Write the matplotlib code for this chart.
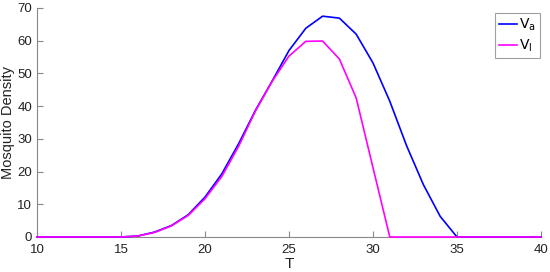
import matplotlib
matplotlib.use("Agg")
import matplotlib.pyplot as plt

plt.rcParams['font.family'] = ['Liberation Sans', 'DejaVu Sans']

T = list(range(10, 41))
Va = [0, 0, 0, 0, 0, 0, 0.3, 1.5, 3.5, 6.8, 12.2, 19.3, 28.5, 38.7, 47.7, 57.0,
      63.8, 67.5, 66.9, 62.0, 53.2, 41.5, 27.9, 16.0, 6.3, 0, 0, 0, 0, 0, 0]
Vl = [0, 0, 0, 0, 0, 0, 0.3, 1.4, 3.4, 6.6, 11.7, 18.5, 27.7, 38.5, 47.6, 55.3,
      59.8, 59.9, 54.4, 42.5, 21.2, 0, 0, 0, 0, 0, 0, 0, 0, 0, 0]

fig = plt.figure(figsize=(5.5, 2.72), dpi=100)
ax = fig.add_axes([0.0673, 0.1287, 0.9163, 0.8419])
ax.plot(T, Va, color=(0, 0, 1), lw=1.2, label=r'$\mathrm{V_a}$', clip_on=False, zorder=3)
ax.plot(T, Vl, color=(1, 0, 1), lw=1.2, label=r'$\mathrm{V_l}$', clip_on=False, zorder=3)
ax.set_xlim(10, 40)
ax.set_ylim(0, 70)
ax.set_xticks(range(10, 41, 5))
ax.set_yticks(range(0, 71, 10))
for s in ['top', 'right']:
    ax.spines[s].set_visible(False)
for s in ['left', 'bottom']:
    ax.spines[s].set_color('#888888')
    ax.spines[s].set_linewidth(0.8)
ax.tick_params(direction='in', colors='#888888', labelcolor='#222222', labelsize=9.5, length=4)
ax.tick_params(axis='x', pad=5)
ax.set_xlabel('T', fontsize=11, color='#222222', labelpad=1)
ax.set_ylabel('Mosquito Density', fontsize=10.5, color='#222222', labelpad=2)
leg = ax.legend(loc='upper right', bbox_to_anchor=(1.0, 0.985), fontsize=10, frameon=True,
                fancybox=False, edgecolor='#888888', handlelength=1.25, handletextpad=0.15,
                borderpad=0.3, labelspacing=0.3, borderaxespad=0.1)
leg.get_frame().set_linewidth(0.8)
fig.savefig('out.png', dpi=100)
